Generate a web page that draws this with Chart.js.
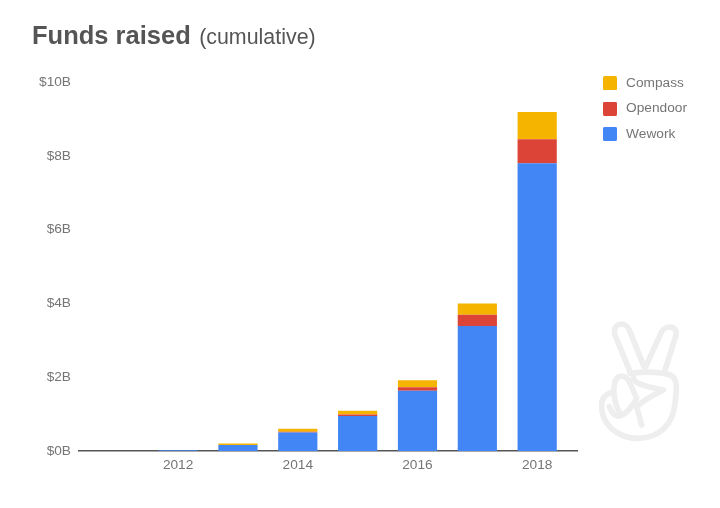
<!DOCTYPE html>
<html><head><meta charset="utf-8">
<script src="https://cdn.jsdelivr.net/npm/chart.js@4"></script>
<style>
html,body{margin:0;padding:0;background:#fff;width:720px;height:508px;overflow:hidden}
#wrap{position:relative;width:720px;height:508px}
canvas{position:absolute;left:0;top:0}
#title{position:absolute;left:32px;top:18px;color:#555;font-family:"Liberation Sans",Arial,sans-serif;white-space:nowrap;line-height:34px}
#title b{font-size:25.5px}
#title span{font-size:21.4px;margin-left:4px}
#logo{position:absolute;left:580px;top:310px}
</style></head>
<body>
<div id="wrap">
<canvas id="c" width="720" height="508"></canvas>
<div id="title"><b>Funds raised</b> <span>(cumulative)</span></div>
<svg id="logo" width="120" height="140" viewBox="0 0 360 420" fill="none" stroke="#eeeeee" stroke-width="17" stroke-linecap="round" stroke-linejoin="round">
<path d="M150 185 L105 75 C95 40 135 30 148 60 L192 170"/>
<path d="M197 170 L245 65 C262 40 300 50 285 85 L252 190"/>
<path d="M150 190 C190 185 240 185 270 195 C295 205 290 240 285 280 C280 340 240 385 175 385 C110 385 60 340 65 280 C65 262 85 248 100 245"/>
<path d="M160 200 C160 215 170 225 250 240 C220 255 190 270 170 290 L185 345"/>
<path d="M105 215 C115 190 140 195 150 220 L170 265 C160 285 140 310 125 315 C110 300 95 255 105 215"/>
<path d="M88 290 C95 310 110 325 125 315"/>
</svg>
</div>
<script>
const years = [2012, 2013, 2014, 2015, 2016, 2017, 2018];
const wework = [0.02, 0.16, 0.50, 0.95, 1.63, 3.39, 7.80];
const opendoor = [0, 0, 0.02, 0.04, 0.10, 0.30, 0.65];
const compass = [0, 0.04, 0.08, 0.10, 0.19, 0.31, 0.74];
const xTicks = [2012, 2014, 2016, 2018];
const FONT = "'Liberation Sans', Arial, sans-serif";
const pts = a => a.map((v, i) => ({x: years[i], y: v}));
const ds = (label, arr, color) => ({label, data: pts(arr), backgroundColor: color, borderWidth: 0, borderRadius: 0,
  barPercentage: 0.655, categoryPercentage: 1});
function swatch(color) {
  const c = document.createElement('canvas');
  c.width = 14; c.height = 14;
  const g = c.getContext('2d');
  g.fillStyle = color;
  g.beginPath(); g.roundRect(0, 0, 14, 14, 1.5); g.fill();
  return c;
}
new Chart(document.getElementById('c'), {
  type: 'bar',
  data: {datasets: [ds('Wework', wework, '#4285f4'), ds('Opendoor', opendoor, '#db4437'), ds('Compass', compass, '#f4b400')]},
  plugins: [{id: 'placeLegend', afterLayout(chart) {
    const l = chart.legend;
    l.left = 589.25; l.top = 65; l.right = 720; l.bottom = 200;
  }}],
  options: {
    responsive: false, animation: false,
    layout: {padding: {top: 82, left: 0, right: 35, bottom: 0}},
    plugins: {
      title: {display: false},
      tooltip: {enabled: false},
      legend: {position: 'right', align: 'start', reverse: true,
        labels: {boxWidth: 13, boxHeight: 13, padding: 11.5, usePointStyle: true, pointStyleWidth: 18.5,
          color: '#757575', font: {family: FONT, size: 13.7},
          generateLabels(chart) {
            return Chart.defaults.plugins.legend.labels.generateLabels(chart).map(it => {
              it.pointStyle = swatch(chart.data.datasets[it.datasetIndex].backgroundColor);
              return it;
            });
          }}}
    },
    scales: {
      x: {type: 'linear', stacked: true, min: 2010.344, max: 2018.67, offset: false,
        grid: {display: false, drawTicks: false},
        border: {display: true, color: '#555', width: 1.5},
        afterBuildTicks: s => { s.ticks = xTicks.map(v => ({value: v})); },
        afterFit: s => { s.height = 57; },
        ticks: {color: '#757575', padding: 6, maxRotation: 0, font: {family: FONT, size: 13.7}, callback: v => String(v)}},
      y: {stacked: true, min: 0, max: 10,
        grid: {display: false, drawTicks: false},
        border: {display: false},
        afterFit: s => { s.width = 79; },
        ticks: {stepSize: 2, color: '#757575', padding: 8, font: {family: FONT, size: 13.7}, callback: v => '$' + v + 'B'}}
    }
  }
});
</script>
</body></html>
